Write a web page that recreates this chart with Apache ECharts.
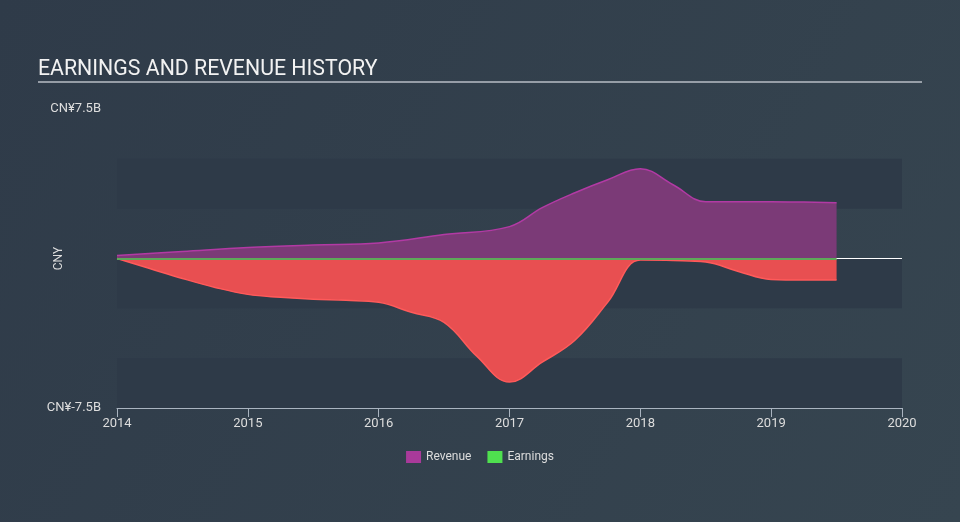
<!DOCTYPE html>
<html>
<head>
<meta charset="utf-8">
<script src="https://cdn.jsdelivr.net/npm/echarts@6/dist/echarts.min.js"></script>
<style>
html,body{margin:0;padding:0;}
#chart{width:960px;height:522px;}
</style>
</head>
<body>
<div id="chart"></div>
<script>
// Data (values in CNY billions)
var revYears = [2014.0, 2014.5, 2015.0, 2015.5, 2016.0, 2016.5, 2017.0, 2017.25, 2017.5, 2017.75, 2018.0, 2018.25, 2018.5, 2018.75, 2019.0, 2019.25, 2019.5];
var revenue  = [0.15,   0.35,   0.55,   0.68,   0.78,   1.2,    1.6,    2.55,    3.3,    3.95,    4.5,    3.7,     2.85,   2.85,    2.85,   2.83,    2.8];
var earnYears = [2014.0, 2014.25, 2014.5, 2014.75, 2015.0, 2015.25, 2015.5, 2015.75, 2016.0, 2016.25, 2016.5, 2016.75, 2017.0, 2017.25, 2017.5, 2017.75, 2018.0, 2018.25, 2018.5, 2018.75, 2019.0, 2019.25, 2019.5];
var earnings  = [0,      -0.5,    -1.0,   -1.45,   -1.8,   -1.95,   -2.05,  -2.1,    -2.2,   -2.7,    -3.2,   -4.9,    -6.2,   -5.2,    -4.1,   -2.2,    -0.08,  -0.1,    -0.18,  -0.65,   -1.05,  -1.08,   -1.08];
var xTickYears = [2014, 2015, 2016, 2017, 2018, 2019, 2020];
var yLimit = 7.5;

function zip(a, b) { return a.map(function (v, i) { return [v, b[i]]; }); }

var chart = echarts.init(document.getElementById('chart'), null, {renderer: 'canvas'});
var FONT = 'Roboto, "Open Sans", sans-serif';
var option = {
  backgroundColor: {
    type: 'linear', x: 0, y: 0, x2: 1, y2: 1,
    colorStops: [{offset: 0, color: '#2f3b49'}, {offset: 1, color: '#364550'}]
  },
  animation: false,
  title: {
    text: 'EARNINGS AND REVENUE HISTORY',
    left: 33, top: 54,
    textStyle: {color: '#f2f2f2', fontSize: 21.3, fontWeight: 'normal', fontFamily: FONT}
  },
  graphic: [{
    type: 'line', shape: {x1: 38, y1: 82, x2: 922, y2: 82},
    style: {stroke: '#b8bec6', lineWidth: 1.5}
  }],
  legend: {
    data: [
      {name: 'Revenue', itemStyle: {color: '#a93a9a'}},
      {name: 'Earnings', itemStyle: {color: '#4fe04f'}}
    ],
    icon: 'rect', itemWidth: 15, itemHeight: 12, itemGap: 16,
    bottom: 54, left: 'center',
    textStyle: {color: '#dddddd', fontSize: 12, fontFamily: FONT}
  },
  grid: {left: 117, right: 58, top: 109, bottom: 114},
  xAxis: {
    type: 'value', min: xTickYears[0], max: xTickYears[xTickYears.length - 1], interval: 1,
    axisLine: {show: true, onZero: false, lineStyle: {color: '#aab4c0', width: 1}},
    axisTick: {show: true, length: 9, lineStyle: {color: '#aab4c0'}},
    axisLabel: {color: '#dddddd', fontSize: 13, margin: 9, fontFamily: FONT,
      formatter: function (v) { return String(Math.round(v)); }},
    splitLine: {show: false}
  },
  yAxis: {
    type: 'value', min: -yLimit, max: yLimit, interval: 2.5,
    name: 'CNY', nameLocation: 'middle', nameGap: 52, nameRotate: 90,
    nameMoveOverlap: false,
    nameTextStyle: {color: '#dddddd', fontSize: 12, fontFamily: FONT},
    axisLine: {show: false}, axisTick: {show: false},
    axisLabel: {
      color: '#dddddd', fontSize: 13, margin: 16, fontFamily: FONT,
      formatter: function (v) {
        if (Math.abs(v - yLimit) < 1e-6) return 'CN¥7.5B';
        if (Math.abs(v + yLimit) < 1e-6) return 'CN¥-7.5B';
        return '';
      }
    },
    splitLine: {show: false},
    splitArea: {show: true, areaStyle: {color: ['#2e3a48', 'rgba(0,0,0,0)']}}
  },
  series: [
    {
      name: 'Revenue', type: 'line', data: zip(revYears, revenue),
      smooth: 0.4, symbol: 'none', z: 2,
      lineStyle: {color: '#b23aa4', width: 1.5},
      itemStyle: {color: '#a93a9a'},
      areaStyle: {color: '#7b3a77', opacity: 1}
    },
    {
      name: 'Earnings', type: 'line', data: zip(earnYears, earnings),
      smooth: 0.4, symbol: 'none', z: 3,
      lineStyle: {color: '#ff5a5a', width: 1.5},
      itemStyle: {color: '#4fe04f'},
      areaStyle: {color: '#e84f51', opacity: 1},
      markLine: {
        silent: true, symbol: 'none', label: {show: false},
        data: [
          [{coord: [xTickYears[0], 0], lineStyle: {color: '#ffffff', width: 1, type: 'solid'}},
           {coord: [xTickYears[xTickYears.length - 1], 0]}],
          [{coord: [earnYears[0], 0], lineStyle: {color: '#5ea85a', width: 2, type: 'solid'}},
           {coord: [earnYears[earnYears.length - 1], 0]}]
        ]
      }
    }
  ]
};
chart.setOption(option);
</script>
</body>
</html>
